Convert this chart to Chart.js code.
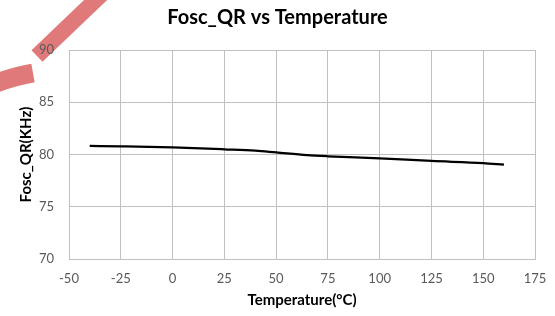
<!DOCTYPE html>
<html>
<head>
<meta charset="utf-8">
<script src="https://cdn.jsdelivr.net/npm/chart.js@4"></script>
<style>
  html, body { margin: 0; padding: 0; background: #ffffff; }
  #wrap { width: 555px; height: 316px; }
</style>
</head>
<body>
<div id="wrap"><canvas id="c" width="555" height="316"></canvas></div>
<script>
// Data
const temperatures = [-40, -25, 0, 25, 40, 50, 65, 75, 100, 125, 150, 160];
const foscQR = [80.82, 80.78, 80.68, 80.5, 80.37, 80.2, 79.94, 79.83, 79.63, 79.38, 79.17, 79.02];
const chartTitle = 'Fosc_QR vs Temperature';
const xTitle = 'Temperature(°C)';
const yTitle = 'Fosc_QR(KHz)';

const FONT = 'Lato, "Open Sans", "DejaVu Sans", sans-serif';
const GRID = '#c0c0c0';
const TICK = '#595959';

// decorative red band seen in the top-left of the reference picture
const decoration = {
  id: 'decoration',
  beforeDraw(chart) {
    const ctx = chart.ctx;
    ctx.save();
    ctx.strokeStyle = '#e07a7a';
    ctx.lineCap = 'butt';
    ctx.lineWidth = 16;
    ctx.beginPath();
    ctx.moveTo(104, -8);
    ctx.lineTo(37, 56);
    ctx.stroke();
    ctx.lineWidth = 19;
    ctx.beginPath();
    ctx.moveTo(33, 73);
    ctx.quadraticCurveTo(16, 76, -4, 83);
    ctx.stroke();
    ctx.restore();
  }
};

new Chart(document.getElementById('c'), {
  type: 'line',
  data: {
    datasets: [{
      data: temperatures.map((t, i) => ({ x: t, y: foscQR[i] })),
      borderColor: '#000000',
      borderWidth: 2.25,
      pointRadius: 0,
      fill: false,
      cubicInterpolationMode: 'monotone'
    }]
  },
  options: {
    responsive: false,
    animation: false,
    layout: { padding: { left: 0, right: 0, top: 0, bottom: 0 } },
    plugins: {
      legend: { display: false },
      tooltip: { enabled: false },
      title: {
        display: true,
        text: chartTitle,
        color: '#000000',
        font: { family: FONT, size: 20, weight: 'bold' },
        padding: { top: 6, bottom: 20 }
      }
    },
    scales: {
      x: {
        type: 'linear',
        min: -50, max: 175,
        afterFit(scale) { scale.height = 57; scale.paddingRight = 20; scale.paddingLeft = 0; },
        ticks: { stepSize: 25, color: TICK, font: { family: FONT, size: 13 }, padding: 12, maxRotation: 0 },
        grid: { color: GRID, lineWidth: 1, drawTicks: false },
        border: { color: GRID, width: 1 },
        title: { display: true, text: xTitle, color: '#000000', font: { family: FONT, size: 15, weight: 'bold' }, padding: { top: 0, bottom: 7 } }
      },
      y: {
        min: 70, max: 90,
        afterFit(scale) { scale.width = 69; },
        ticks: { stepSize: 5, color: TICK, font: { family: FONT, size: 13 }, padding: 15 },
        grid: { color: GRID, lineWidth: 1, drawTicks: false },
        border: { color: GRID, width: 1 },
        title: { display: true, text: yTitle, color: '#000000', font: { family: FONT, size: 15, weight: 'bold' }, padding: { top: 17, bottom: 0 } }
      }
    }
  },
  plugins: [decoration]
});
</script>
</body>
</html>
